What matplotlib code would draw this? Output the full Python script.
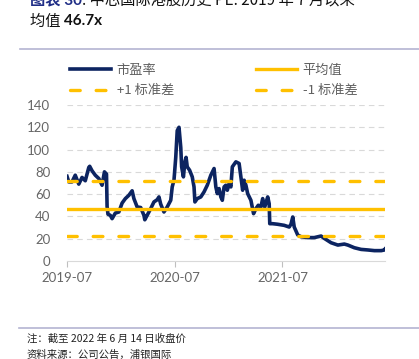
import matplotlib
matplotlib.use("Agg")
import matplotlib.pyplot as plt
from matplotlib.lines import Line2D
import pandas as pd

plt.rcParams['font.family'] = ['Noto Sans CJK SC', 'DejaVu Sans']
plt.rcParams['lines.scale_dashes'] = False

# ---------------- data ----------------
dates = [
    "2019-07-01", "2019-07-07", "2019-07-18", "2019-07-29", "2019-08-10", "2019-08-21",
    "2019-09-01", "2019-09-13", "2019-09-16", "2019-09-24", "2019-10-05", "2019-10-17",
    "2019-10-28", "2019-11-05", "2019-11-12", "2019-11-14", "2019-11-17", "2019-11-25",
    "2019-12-01", "2019-12-12", "2019-12-24", "2020-01-04", "2020-01-15", "2020-01-27",
    "2020-02-07", "2020-02-13", "2020-02-24", "2020-03-07", "2020-03-18", "2020-03-21",
    "2020-03-29", "2020-04-10", "2020-04-21", "2020-05-02", "2020-05-08", "2020-05-14",
    "2020-05-25", "2020-06-05", "2020-06-17", "2020-06-22", "2020-06-28", "2020-07-04",
    "2020-07-09", "2020-07-15", "2020-07-21", "2020-07-24", "2020-07-30", "2020-08-04",
    "2020-08-08", "2020-08-12", "2020-08-20", "2020-08-29", "2020-09-04", "2020-09-07",
    "2020-09-15", "2020-09-27", "2020-10-08", "2020-10-19", "2020-10-31", "2020-11-11",
    "2020-11-17", "2020-11-22", "2020-11-28", "2020-12-04", "2020-12-09", "2020-12-15",
    "2020-12-21", "2020-12-26", "2021-01-01", "2021-01-07", "2021-01-12", "2021-01-24",
    "2021-02-04", "2021-02-10", "2021-02-16", "2021-02-21", "2021-02-27", "2021-03-05",
    "2021-03-16", "2021-03-25", "2021-04-02", "2021-04-10", "2021-04-19", "2021-04-25",
    "2021-05-02", "2021-05-12", "2021-05-17", "2021-05-19", "2021-05-28", "2021-06-14",
    "2021-07-07", "2021-07-24", "2021-07-30", "2021-08-05", "2021-08-10", "2021-08-22",
    "2021-09-02", "2021-09-25", "2021-10-17", "2021-11-09", "2021-11-20", "2021-12-13",
    "2022-01-05", "2022-01-27", "2022-02-08", "2022-03-02", "2022-03-25", "2022-04-17",
    "2022-05-09", "2022-06-01", "2022-06-12", "2022-06-14",
]
pe = [
    76, 71, 71, 77, 69, 75,
    72, 84, 85, 81, 77, 74,
    68, 80, 78, 49, 42, 41,
    38, 43, 44, 52, 56, 59,
    63, 56, 48.5, 48, 41, 37,
    41, 47, 53, 55, 57.5, 51,
    44, 48.5, 54.5, 66.5, 72.5, 93,
    117, 120, 102, 84.5, 75.5, 89,
    93, 84.5, 81.5, 75.5, 66.5, 53,
    56, 57.5, 62, 68, 77, 83,
    66.5, 60.5, 65, 57.5, 54.5, 66.5,
    68, 63.5, 69.5, 66.5, 84.5, 89,
    87.5, 75.5, 63.5, 72.5, 68, 60.5,
    54.5, 42.5, 47, 50, 48.5, 56,
    48.5, 57.5, 51.5, 33.5, 33.5, 33,
    32, 30.5, 33, 39.5, 30.5, 23.3,
    21.8, 21, 21, 22.4, 20.3, 16.4,
    14.3, 15.2, 14.3, 11.9, 10.4, 9.9,
    9.3, 9.3, 9.9, 10.7,
]
mean_val = 46.7
plus_1sd = 71.5
minus_1sd = 22.0

y_ticks = [0, 20, 40, 60, 80, 100, 120, 140]
x_tick_dates = ["2019-07-01", "2020-07-01", "2021-07-01"]
x_tick_labels = ["2019-07", "2020-07", "2021-07"]

legend_labels = ["市盈率", "平均值", "+1 标准差", "-1 标准差"]
title_prefix = "图表 30"
title_line1 = ": 中芯国际港股历史 PE: 2019 年 7 月以来"
title_line2_cn = "均值 "
title_line2_num = "46.7x"
note_lines = ["注：截至 2022 年 6 月 14 日收盘价", "资料来源：公司公告，浦银国际"]

# ---------------- figure ----------------
W, H = 419, 359
fig = plt.figure(figsize=(W / 100, H / 100), dpi=100)

def fx(px):
    return px / W

def fy(py):
    return 1 - py / H

ax = fig.add_axes([fx(67), fy(261), fx(385) - fx(67), fy(105) - fy(261)])

navy = "#0c2461"
gold = "#FFC000"
tick_color = "#666666"
dash = (0, (7, 11.5))

d = pd.to_datetime(dates)
xmin, xmax = pd.Timestamp("2019-07-01"), pd.Timestamp("2022-06-14")

# grid lines
for yv in y_ticks[1:]:
    ax.axhline(yv, color="#d9d9d9", lw=0.8, ls=(0, (4, 3)), zorder=0)

l_pe, = ax.plot(d, pe, color=navy, lw=2.6, solid_joinstyle="round", zorder=3)
l_mean = ax.axhline(mean_val, color=gold, lw=2.4, zorder=4)
l_p1 = ax.axhline(plus_1sd, color=gold, lw=2.4, ls=dash,
                  dash_capstyle="round", zorder=4)
l_m1 = ax.axhline(minus_1sd, color=gold, lw=2.4, ls=dash,
                  dash_capstyle="round", zorder=4)

ax.set_xlim(xmin, xmax)
ax.set_ylim(0, 140)
ax.set_yticks(y_ticks)
ax.set_yticklabels([str(v) for v in y_ticks], fontfamily="Lato", fontsize=9.5,
                   color=tick_color)
ax.set_xticks(pd.to_datetime(x_tick_dates))
ax.set_xticklabels(x_tick_labels, fontfamily="Lato", fontsize=9.5, color=tick_color)
ax.tick_params(axis="y", length=0, pad=12)
ax.tick_params(axis="x", length=4, color="#bfbfbf", width=0.8, pad=4)
for s in ["top", "right", "left"]:
    ax.spines[s].set_visible(False)
ax.spines["bottom"].set_color("#d9d9d9")
ax.spines["bottom"].set_linewidth(0.8)
ax.set_facecolor("none")

# legend
handles = [l_pe, Line2D([], [], color=gold, lw=2.4, ls=dash, dash_capstyle="round"),
           l_mean, Line2D([], [], color=gold, lw=2.4, ls=dash, dash_capstyle="round")]
labels = [legend_labels[0], legend_labels[2], legend_labels[1], legend_labels[3]]
leg = fig.legend(handles, labels, ncol=2, loc="upper left",
                 bbox_to_anchor=(fx(58), fy(52)), frameon=False,
                 prop={"family": ["Noto Sans CJK SC", "DejaVu Sans"], "size": 9.5},
                 handlelength=3.1, handletextpad=0.45, columnspacing=6.2,
                 labelspacing=0.55, labelcolor="#5f5f5f")

# title
t1 = fig.text(fx(30), fy(0), title_prefix, color="#1f2d86", fontsize=11,
              fontweight="bold", va="center", ha="left",
              family=["Lato", "Noto Sans CJK SC"])
fig.canvas.draw()
bb = t1.get_window_extent()
fig.text(bb.x1 / W, fy(0), title_line1, color="#111111", fontsize=11,
         va="center", ha="left", family=["Noto Sans CJK SC", "DejaVu Sans"])
t2 = fig.text(fx(30), fy(21), title_line2_cn, color="#111111", fontsize=11,
              va="center", ha="left", family=["Noto Sans CJK SC", "DejaVu Sans"])
fig.canvas.draw()
bb2 = t2.get_window_extent()
fig.text(bb2.x1 / W, fy(21), title_line2_num, color="#111111", fontsize=11,
         fontweight="bold", va="center", ha="left", family=["Lato", "DejaVu Sans"])

# separator lines
sep_color = "#b4b4d2"
fig.add_artist(Line2D([fx(20), 1], [fy(49), fy(49)], color=sep_color, lw=1.2,
                      transform=fig.transFigure))
fig.add_artist(Line2D([fx(19), 1], [fy(328), fy(328)], color=sep_color, lw=1.2,
                      transform=fig.transFigure))

# notes
fig.text(fx(27), fy(339), note_lines[0], fontsize=7.5, color="#222222", va="center",
         ha="left", family=["Noto Sans CJK SC", "DejaVu Sans"])
fig.text(fx(27), fy(355), note_lines[1], fontsize=7.5, color="#222222", va="center",
         ha="left", family=["Noto Sans CJK SC", "DejaVu Sans"])

fig.savefig("out.png", dpi=100)
